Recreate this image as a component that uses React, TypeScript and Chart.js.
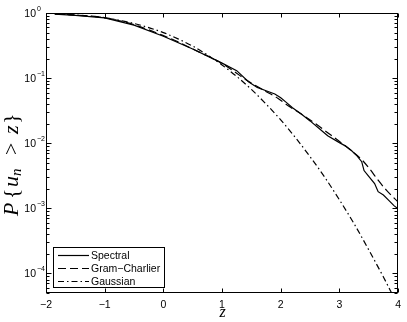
import React, { useEffect, useRef } from 'react';
import { Chart, registerables } from 'chart.js';
Chart.register(...registerables);

// ---- data ----
const spectralZ = [-1.85, -1.5, -1.0, -0.5, 0, 0.5, 1.0, 1.25, 1.45, 1.6, 1.75, 1.9, 2.0, 2.1, 2.2, 2.35, 2.5, 2.65, 2.8, 3.0, 3.1, 3.2, 3.3, 3.38, 3.42, 3.5, 3.6, 3.66, 3.75, 3.85, 3.93, 4.0];
const spectralP = [0.96, 0.92, 0.84, 0.65, 0.44, 0.28, 0.17, 0.13, 0.088, 0.072, 0.064, 0.057, 0.05, 0.042, 0.035, 0.028, 0.022, 0.017, 0.013, 0.0102, 0.0091, 0.0078, 0.0064, 0.0052, 0.0038, 0.0031, 0.0024, 0.0018, 0.0016, 0.0013, 0.0011, 0.00098];

const gramZ = [-1.85, -1.5, -1.0, -0.5, 0, 0.25, 0.5, 0.75, 1.0, 1.2, 1.4, 1.74, 1.95, 2.14, 2.35, 2.59, 2.8, 3.04, 3.2, 3.38, 3.5, 3.66, 3.8, 4.0];
const gramP = [0.97, 0.93, 0.85, 0.66, 0.45, 0.36, 0.28, 0.22, 0.168, 0.128, 0.095, 0.063, 0.049, 0.037, 0.028, 0.02, 0.0145, 0.01, 0.0077, 0.0056, 0.0042, 0.0027, 0.0019, 0.00125];

const gaussZ = [-1.85, -1.5, -1.0, -0.5, 0, 0.25, 0.5, 0.75, 1.0, 1.25, 1.5, 1.75, 2.0, 2.25, 2.5, 2.75, 3.0, 3.25, 3.5, 3.75, 3.9];
const gaussP = [0.968, 0.933, 0.841, 0.69, 0.5, 0.4, 0.31, 0.227, 0.159, 0.106, 0.067, 0.04, 0.0228, 0.0122, 0.0062, 0.003, 0.00135, 0.00058, 0.00023, 0.000088, 0.000048];

const seriesLabels = ['Spectral', 'Gram\u2212Charlier', 'Gaussian'];
const xTickValues = [-2, -1, 0, 1, 2, 3, 4];
const yDecades = [0, -1, -2, -3, -4];
const yMin = 5e-5;
const yMax = 1;
const xTitle = 'z';

const SANS = '"Liberation Sans", Arial, Helvetica, sans-serif';
const SERIF = '"Liberation Serif", "Times New Roman", serif';

const dashes: number[][] = [[], [8, 4], [6, 3, 1.5, 3]];

const framePlugin = {
  id: 'matlabFrame',
  afterDraw(chart: any) {
    const ctx: CanvasRenderingContext2D = chart.ctx;
    const a = chart.chartArea;
    const xs = chart.scales.x;
    const ys = chart.scales.y;
    ctx.save();
    ctx.strokeStyle = '#000';
    ctx.lineWidth = 1;
    const L = Math.round(a.left) + 0.5;
    const R = Math.round(a.right) - 0.5;
    const T = Math.round(a.top) + 0.5;
    const B = Math.round(a.bottom) - 0.5;
    ctx.strokeRect(L, T, R - L, B - T);

    // x ticks (inward, top & bottom)
    ctx.beginPath();
    xTickValues.forEach((v) => {
      const px = Math.round(xs.getPixelForValue(v)) + 0.5;
      ctx.moveTo(px, B); ctx.lineTo(px, B - 4);
      ctx.moveTo(px, T); ctx.lineTo(px, T + 4);
    });
    // y ticks major/minor
    for (let d = -5; d <= 0; d++) {
      for (let m = 1; m <= 9; m++) {
        const v = m * Math.pow(10, d);
        if (v < yMin * 0.999 || v > yMax * 1.001) continue;
        const py = Math.round(ys.getPixelForValue(v)) + 0.5;
        const len = m === 1 ? 5 : 3;
        ctx.moveTo(L, py); ctx.lineTo(L + len, py);
        ctx.moveTo(R, py); ctx.lineTo(R - len, py);
      }
    }
    ctx.stroke();

    // y tick labels 10^d
    ctx.fillStyle = '#000';
    yDecades.forEach((d) => {
      const py = ys.getPixelForValue(Math.pow(10, d));
      ctx.font = `10.5px ${SANS}`;
      ctx.textAlign = 'right';
      ctx.textBaseline = 'middle';
      ctx.fillText('10', 36, py + 1);
      ctx.font = `7px ${SANS}`;
      ctx.textAlign = 'left';
      ctx.textBaseline = 'alphabetic';
      ctx.fillText(d === 0 ? '0' : '\u2212' + String(-d), 37, py - 2);
    });

    // x title
    ctx.font = `italic 16px ${SERIF}`;
    ctx.textAlign = 'center';
    ctx.textBaseline = 'alphabetic';
    ctx.fillText(xTitle, (a.left + a.right) / 2 + 0.5, 317);

    // y title  P{u_n > z}
    ctx.save();
    ctx.translate(18, 216);
    ctx.rotate(-Math.PI / 2);
    ctx.textAlign = 'left';
    ctx.textBaseline = 'alphabetic';
    const pieces: [string, number, string, number][] = [
      ['P', 0, `italic 22px ${SERIF}`, 0],
      ['{', 17, `22px ${SERIF}`, 0],
      ['u', 29, `italic 22px ${SERIF}`, 0],
      ['n', 40, `italic 15px ${SERIF}`, 3],
      ['>', 61, `22px ${SERIF}`, 0],
      ['z', 82, `italic 22px ${SERIF}`, 0],
      ['}', 92, `22px ${SERIF}`, 0],
    ];
    pieces.forEach(([t, off, f, dy]) => {
      ctx.font = f;
      ctx.fillText(t, off, dy);
    });
    ctx.restore();

    // legend box
    const lx = 53.5, ly = 247.5, lw = 111, lh = 40;
    ctx.fillStyle = '#fff';
    ctx.fillRect(lx, ly, lw, lh);
    ctx.strokeStyle = '#000';
    ctx.lineWidth = 1;
    ctx.strokeRect(lx, ly, lw, lh);
    const rows = [255, 268, 281];
    chart.data.datasets.forEach((ds: any, i: number) => {
      const y = rows[i] + 0.5;
      ctx.beginPath();
      ctx.setLineDash(ds.borderDash || []);
      ctx.lineWidth = 1.2;
      ctx.moveTo(58, y);
      ctx.lineTo(89, y);
      ctx.stroke();
      ctx.setLineDash([]);
      ctx.fillStyle = '#000';
      ctx.font = `10.5px ${SANS}`;
      ctx.textAlign = 'left';
      ctx.textBaseline = 'middle';
      ctx.fillText(ds.label, 91, rows[i] + 1);
    });
    ctx.restore();
  },
};

export default function App() {
  const ref = useRef<HTMLCanvasElement>(null);
  useEffect(() => {
    const canvas = ref.current!;
    const mk = (xv: number[], yv: number[]) => xv.map((x, i) => ({ x, y: yv[i] }));
    const chart = new Chart(canvas, {
      type: 'line',
      data: {
        datasets: [
          { label: seriesLabels[0], data: mk(spectralZ, spectralP), borderColor: '#000', borderWidth: 1.2, borderDash: dashes[0], pointRadius: 0, fill: false, tension: 0 },
          { label: seriesLabels[1], data: mk(gramZ, gramP), borderColor: '#000', borderWidth: 1.2, borderDash: dashes[1], pointRadius: 0, fill: false, cubicInterpolationMode: 'monotone' },
          { label: seriesLabels[2], data: mk(gaussZ, gaussP), borderColor: '#000', borderWidth: 1.2, borderDash: dashes[2], pointRadius: 0, fill: false, cubicInterpolationMode: 'monotone' },
        ],
      } as any,
      options: {
        animation: false,
        responsive: false,
        devicePixelRatio: 1,
        layout: { padding: { top: 13, right: 7, left: 0, bottom: 0 } },
        plugins: { legend: { display: false }, tooltip: { enabled: false } },
        scales: {
          x: {
            type: 'linear',
            min: -2,
            max: 4,
            afterBuildTicks: (s: any) => { s.ticks = xTickValues.map((v) => ({ value: v })); },
            afterFit: (s: any) => { s.height = 29; },
            ticks: {
              color: '#000',
              font: { family: SANS, size: 10.5 },
              padding: 6,
              maxRotation: 0,
              autoSkip: false,
              callback: (v: any) => (Number(v) < 0 ? '\u2212' + String(-Number(v)) : String(v)),
            },
            grid: { display: false, drawTicks: false },
            border: { display: false },
          },
          y: {
            type: 'logarithmic',
            min: yMin,
            max: yMax,
            afterFit: (s: any) => { s.width = 46; },
            ticks: { display: false },
            grid: { display: false, drawTicks: false },
            border: { display: false },
          },
        },
      } as any,
      plugins: [framePlugin],
    });
    return () => chart.destroy();
  }, []);
  return (
    <div style={{ position: 'absolute', left: 0, top: 0, width: 407, height: 322, background: '#fff' }}>
      <canvas ref={ref} width={407} height={322} style={{ width: 407, height: 322, display: 'block' }} />
    </div>
  );
}
